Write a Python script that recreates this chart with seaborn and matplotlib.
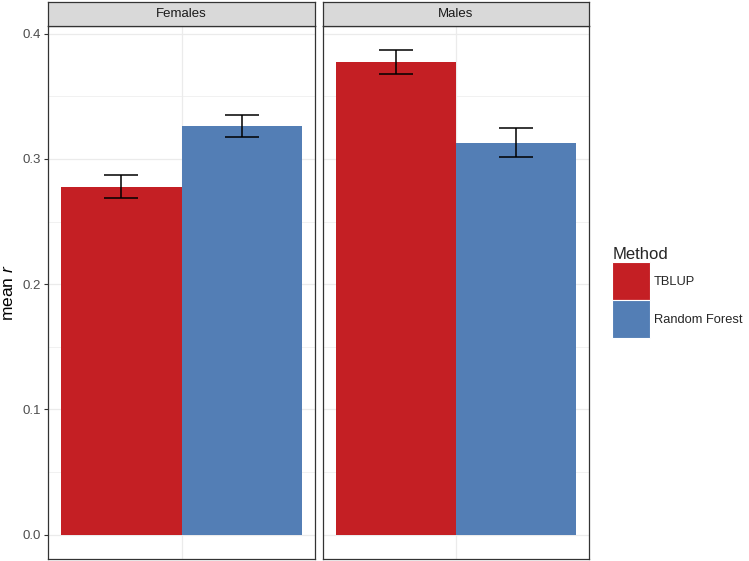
import matplotlib
matplotlib.use("Agg")
import matplotlib.pyplot as plt
from matplotlib.patches import Patch
from matplotlib.ticker import MultipleLocator, FormatStrFormatter
import seaborn as sns
import pandas as pd

sexes = ["Females", "Males"]
methods = ["TBLUP", "Random Forest"]
mean_r = {"Females": [0.2776, 0.3259], "Males": [0.3772, 0.3128]}
err_lo = {"Females": [0.2684, 0.3171], "Males": [0.3677, 0.3016]}
err_hi = {"Females": [0.2875, 0.3349], "Males": [0.3866, 0.3245]}
colors = ["#C41F24", "#537EB5"]

sns.set_theme(style="white")
plt.rcParams["font.family"] = ["Liberation Sans", "DejaVu Sans"]
plt.rcParams["mathtext.fontset"] = "custom"
plt.rcParams["mathtext.it"] = "Liberation Sans:italic"
plt.rcParams["mathtext.rm"] = "Liberation Sans"

W, H = 749, 561
fig = plt.figure(figsize=(W / 100, H / 100), dpi=100)
panels = [(48, 315), (323, 589)]
ptop, pbot = 26, 559
strip_top = 2
ylo, yhi = -0.0193, 0.406

for i, sex in enumerate(sexes):
    l, r = panels[i]
    ax = fig.add_axes([l / W, 1 - pbot / H, (r - l) / W, (pbot - ptop) / H])
    df = pd.DataFrame({"x": [""] * 2, "Method": methods, "r": mean_r[sex]})
    sns.barplot(data=df, x="x", y="r", hue="Method", hue_order=methods,
                palette=colors, width=0.9, saturation=1, ax=ax, legend=False,
                errorbar=None, linewidth=0, zorder=2)
    centers = [p.get_x() + p.get_width() / 2 for p in ax.patches]
    for c, m, lo, hi in zip(centers, mean_r[sex], err_lo[sex], err_hi[sex]):
        ax.errorbar([c], [m], yerr=[[m - lo], [hi - m]], fmt="none",
                    ecolor="black", elinewidth=1.1, capsize=11.9,
                    capthick=1.1, zorder=3)
    ax.set_xlim(-0.5, 0.5)
    ax.set_ylim(ylo, yhi)
    ax.yaxis.set_major_locator(MultipleLocator(0.1))
    ax.yaxis.set_minor_locator(MultipleLocator(0.05))
    ax.set_xticks([0])
    ax.set_xticklabels([])
    ax.tick_params(axis="x", length=0)
    ax.grid(True, which="major", color="#EBEBEB", linewidth=0.9, zorder=0)
    ax.grid(True, which="minor", axis="y", color="#EBEBEB", linewidth=0.5, zorder=0)
    ax.set_axisbelow(True)
    ax.set_xlabel("")
    for s in ax.spines.values():
        s.set_color("#333333")
        s.set_linewidth(0.9)
    if i == 0:
        ax.set_ylabel("mean $r$", fontsize=12.5, color="black", labelpad=5)
        ax.tick_params(axis="y", which="major", length=3, width=0.8,
                       color="#333333", labelsize=9.5, labelcolor="#4D4D4D", pad=2,
                       left=True)
        ax.tick_params(axis="y", which="minor", length=0)
        ax.yaxis.set_major_formatter(FormatStrFormatter("%.1f"))
    else:
        ax.set_ylabel("")
        ax.tick_params(axis="y", which="both", length=0, labelleft=False)
    # strip
    sax = fig.add_axes([l / W, 1 - ptop / H, (r - l) / W, (ptop - strip_top) / H])
    sax.set_facecolor("#D9D9D9")
    sax.set_xticks([]); sax.set_yticks([])
    for s in sax.spines.values():
        s.set_color("#333333")
        s.set_linewidth(0.9)
    sax.text(0.5, 0.5, sex, ha="center", va="center", fontsize=9.5,
             color="#1A1A1A", transform=sax.transAxes)

handles = [Patch(facecolor=c, edgecolor="white", linewidth=0.8, label=m)
           for c, m in zip(colors, methods)]
leg = fig.legend(handles=handles, title="Method", loc="upper left",
                 bbox_to_anchor=(607 / W, 1 - 242 / H), frameon=False,
                 fontsize=9.3, title_fontsize=12, handlelength=2.95,
                 handleheight=4.15, labelspacing=0.0, handletextpad=0.3,
                 alignment="left", borderaxespad=0)

fig.savefig("out.png", dpi=100)
